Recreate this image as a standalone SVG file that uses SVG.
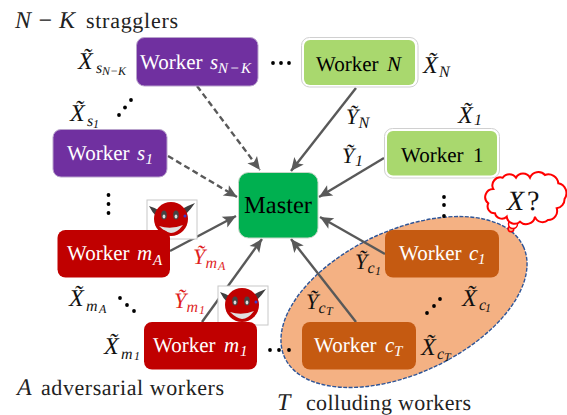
<svg xmlns="http://www.w3.org/2000/svg" xmlns:xlink="http://www.w3.org/1999/xlink" width="567" height="415" viewBox="0 0 567 415">
<style>
text{font-family:"Liberation Serif","Times New Roman",serif;text-rendering:geometricPrecision;}
.w{font-size:21px;fill:#fff}
.b{font-size:21px;fill:#000}
.i{font-style:italic}
.s{font-size:15px;font-style:italic}
.m{font-size:24px;font-style:italic;fill:#111}
.y{font-size:22px;font-style:italic;fill:#111}
.l{font-size:16px;font-style:italic}
.ll{font-size:12px;font-style:italic}
.h{font-size:22px;fill:#222}
.c{fill:none;stroke:#595959;stroke-width:2.4}
.d{stroke-dasharray:6 3.5}
.dot{fill:#000}
</style>
<defs>
<marker id="a" markerUnits="userSpaceOnUse" markerWidth="16" markerHeight="16" refX="14" refY="8" orient="auto">
<path d="M1 2 L14 8 L1 14 L4 8 Z" fill="#595959"/>
</marker>
<g id="devil">
<rect x="-21" y="-19" width="50" height="39" fill="#fff" stroke="#c8c8c8"/>
<path d="M-19 -13 Q-12 -11 -8 -8 L-12 -3 Q-16 -7 -19 -13Z M27 -16 Q19 -13 14 -10 L18 -5 Q23 -10 27 -16Z" fill="#404040"/>
<circle cx="3" cy="0" r="17" fill="#c00000"/>
<ellipse cx="-4" cy="-4" rx="2.800" ry="4.500" fill="#444"/>
<ellipse cx="8" cy="-4" rx="2.800" ry="4.500" fill="#444"/>
<ellipse cx="-4" cy="-2.500" rx="1.400" ry="2" fill="#ddd"/>
<ellipse cx="8" cy="-2.500" rx="1.400" ry="2" fill="#ddd"/>
<path d="M-9 7 Q3 11 15 6 Q9 14 3 14 Q-3 13 -9 7Z" fill="#e0e0e0"/>
<circle cx="17" cy="-3" r="1.500" fill="#3a3ad0"/>
</g>
</defs>
<rect width="567" height="415" fill="#fff"/>
<ellipse id="colluding-region" cx="404" cy="302" rx="131.6" ry="71.6" transform="rotate(-25 404 302)" fill="#f4b183" stroke="#2f5597" stroke-width="1.400" stroke-dasharray="4 1.500"/>
<g id="connectors">
<line class="c d" x1="197" y1="86" x2="260" y2="170" marker-end="url(#a)"/>
<line class="c d" x1="168" y1="156" x2="237" y2="197" marker-end="url(#a)"/>
<line class="c" x1="356" y1="88" x2="291" y2="171" marker-end="url(#a)"/>
<line class="c" x1="384" y1="158" x2="319" y2="197" marker-end="url(#a)"/>
<line class="c" x1="170" y1="251" x2="236" y2="216" marker-end="url(#a)"/>
<line class="c" x1="202" y1="322" x2="262" y2="239" marker-end="url(#a)"/>
<line class="c" x1="385" y1="254" x2="320" y2="217" marker-end="url(#a)"/>
<line class="c" x1="356" y1="322" x2="291" y2="239" marker-end="url(#a)"/>
</g>
<g id="dots" class="dot">
<circle cx="273" cy="63" r="1.900"/><circle cx="281" cy="63" r="1.900"/><circle cx="289" cy="63" r="1.900"/>
<circle cx="119" cy="115" r="1.900"/><circle cx="125" cy="107.500" r="1.900"/><circle cx="131" cy="100" r="1.900"/>
<circle cx="108.500" cy="195" r="1.900"/><circle cx="108.500" cy="204" r="1.900"/><circle cx="108.500" cy="213" r="1.900"/>
<circle cx="120" cy="298" r="1.900"/><circle cx="127" cy="305" r="1.900"/><circle cx="134" cy="311" r="1.900"/>
<circle cx="270" cy="350" r="1.900"/><circle cx="279" cy="350" r="1.900"/><circle cx="289" cy="350" r="1.900"/>
<circle cx="427" cy="313" r="1.900"/><circle cx="434" cy="306" r="1.900"/><circle cx="440" cy="299" r="1.900"/>
<circle cx="444" cy="197" r="1.900"/><circle cx="444" cy="205" r="1.900"/><circle cx="444" cy="216" r="1.900"/>
</g>
<use xlink:href="#devil" href="#devil" x="168" y="219"/>
<use xlink:href="#devil" href="#devil" x="239" y="305"/>
<g id="worker-sNK">
<rect x="136.500" y="37.500" width="121.500" height="48.500" rx="8" fill="#7030a0" stroke="#b9a3cc"/>
<text class="w" x="140" y="69">Worker <tspan class="i" x="210">s</tspan><tspan class="s" x="218" y="73" textLength="33">N−K</tspan></text>
</g>
<g id="worker-s1">
<rect x="53" y="129.500" width="114" height="47.500" rx="8" fill="#7030a0" stroke="#b9a3cc"/>
<text class="w" x="67" y="160">Worker <tspan class="i" x="137">s</tspan><tspan class="s" x="145.500" y="164">1</tspan></text>
</g>
<g id="worker-N">
<rect x="301.500" y="37.500" width="116.500" height="49.500" rx="8" fill="#fff" stroke="#d0d0d0"/>
<rect x="304" y="40" width="111" height="45" rx="6" fill="#a9d86e"/>
<text class="b" x="316" y="71">Worker <tspan class="i" x="387">N</tspan></text>
</g>
<g id="worker-1">
<rect x="384.500" y="128.500" width="115" height="49.500" rx="8" fill="#fff" stroke="#d0d0d0"/>
<rect x="387" y="131" width="110" height="44.500" rx="6" fill="#a9d86e"/>
<text class="b" x="401" y="162">Worker <tspan x="473">1</tspan></text>
</g>
<g id="master">
<rect x="238.500" y="172.500" width="79.500" height="65.500" rx="10" fill="#00b050" stroke="#c8d8c8"/>
<text x="278" y="213" text-anchor="middle" font-size="24.500" fill="#000">Master</text>
</g>
<g id="worker-mA">
<rect x="57.500" y="230" width="112.500" height="47.500" rx="8" fill="#c00000"/>
<text class="w" x="67" y="260">Worker <tspan class="i" x="137">m</tspan><tspan class="s" x="153" y="265">A</tspan></text>
</g>
<g id="worker-m1">
<rect x="144" y="322" width="113" height="47.500" rx="8" fill="#c00000"/>
<text class="w" x="153" y="352">Worker <tspan class="i" x="224">m</tspan><tspan class="s" x="240" y="356">1</tspan></text>
</g>
<g id="worker-c1">
<rect x="385" y="230" width="114" height="47.500" rx="8" fill="#c55a11"/>
<text class="w" x="399" y="260">Worker <tspan class="i" x="469">c</tspan><tspan class="s" x="478" y="264">1</tspan></text>
</g>
<g id="worker-cT">
<rect x="302" y="322" width="114" height="47.500" rx="8" fill="#c55a11"/>
<text class="w" x="314" y="352">Worker <tspan class="i" x="385">c</tspan><tspan class="s" x="394" y="356">T</tspan></text>
</g>
<g id="thought-cloud">
<circle cx="511" cy="229" r="2.800" fill="#f4b183" stroke="#f00" stroke-width="1.500"/>
<circle cx="513" cy="224" r="4.500" fill="#fff" stroke="#f00" stroke-width="1.500"/>
<path d="M493.300 189 A8 8 0 0 1 502.700 177.700 A8 8 0 0 1 516 177.700 A8 8 0 0 1 530 177.700 A9 9 0 0 1 545 175 A10 10 0 0 1 558.300 183.300 A10 10 0 0 1 564.500 199 A9 9 0 0 1 556.700 208.300 A9 9 0 0 1 548 220 A8 8 0 0 1 535 216.700 A9 9 0 0 1 520 221.700 A8 8 0 0 1 506.700 216.700 A7 7 0 0 1 495 213.300 A7 7 0 0 1 488.300 203.300 A8 8 0 0 1 493.300 189 Z" fill="#fff" stroke="#f00" stroke-width="2"/>
<text x="507" y="210" font-size="28" fill="#111"><tspan class="i">X</tspan><tspan dx="3">?</tspan></text>
</g>
<g id="labels">
<text class="h" x="15" y="28"><tspan class="i" font-size="24" textLength="60">N−K</tspan><tspan x="86" textLength="92">stragglers</tspan></text>
<text class="h" x="17" y="395"><tspan class="i" font-size="24">A</tspan><tspan x="41" textLength="183">adversarial workers</tspan></text>
<text class="h" x="277" y="410"><tspan class="i" font-size="24">T</tspan><tspan x="306" textLength="165">colluding workers</tspan></text>

<text class="m" x="78" y="69">X̃<tspan class="l" x="96" y="73">s</tspan><tspan class="ll" x="102" y="75">N−K</tspan></text>
<text class="m" x="70" y="121">X̃<tspan class="l" x="87" y="126">s</tspan><tspan class="ll" font-style="normal" x="93" y="128">1</tspan></text>
<text class="m" x="423" y="73">X̃<tspan class="l" x="439" y="77">N</tspan></text>
<text class="m" x="458" y="123">X̃<tspan class="l" font-style="normal" x="474" y="125">1</tspan></text>
<text class="y" x="346" y="124">Ỹ<tspan class="l" x="358.500" y="128">N</tspan></text>
<text class="y" x="342" y="163">Ỹ<tspan class="l" font-style="normal" x="355" y="166">1</tspan></text>
<text class="y" style="fill:#e01f1f" x="193" y="264">Ỹ<tspan class="l" x="205.500" y="268">m</tspan><tspan class="ll" x="218" y="270">A</tspan></text>
<text class="m" x="69" y="306">X̃<tspan class="l" x="86" y="311">m</tspan><tspan class="ll" x="99" y="313">A</tspan></text>
<text class="y" style="fill:#e01f1f" x="174" y="308">Ỹ<tspan class="l" x="186.500" y="312">m</tspan><tspan class="ll" font-style="normal" x="199" y="314">1</tspan></text>
<text class="m" x="104" y="354">X̃<tspan class="l" x="121" y="359">m</tspan><tspan class="ll" font-style="normal" x="134" y="360">1</tspan></text>
<text class="y" x="355" y="269">Ỹ<tspan class="l" x="367.500" y="273">c</tspan><tspan class="ll" font-style="normal" x="375" y="275">1</tspan></text>
<text class="y" x="306" y="309">Ỹ<tspan class="l" x="318.500" y="313">c</tspan><tspan class="ll" x="326" y="315">T</tspan></text>
<text class="m" x="462" y="306">X̃<tspan class="l" x="479" y="310">c</tspan><tspan class="ll" font-style="normal" x="485" y="312">1</tspan></text>
<text class="m" x="421" y="355">X̃<tspan class="l" x="437" y="359">c</tspan><tspan class="ll" x="444" y="361">T</tspan></text>
</g>
</svg>
